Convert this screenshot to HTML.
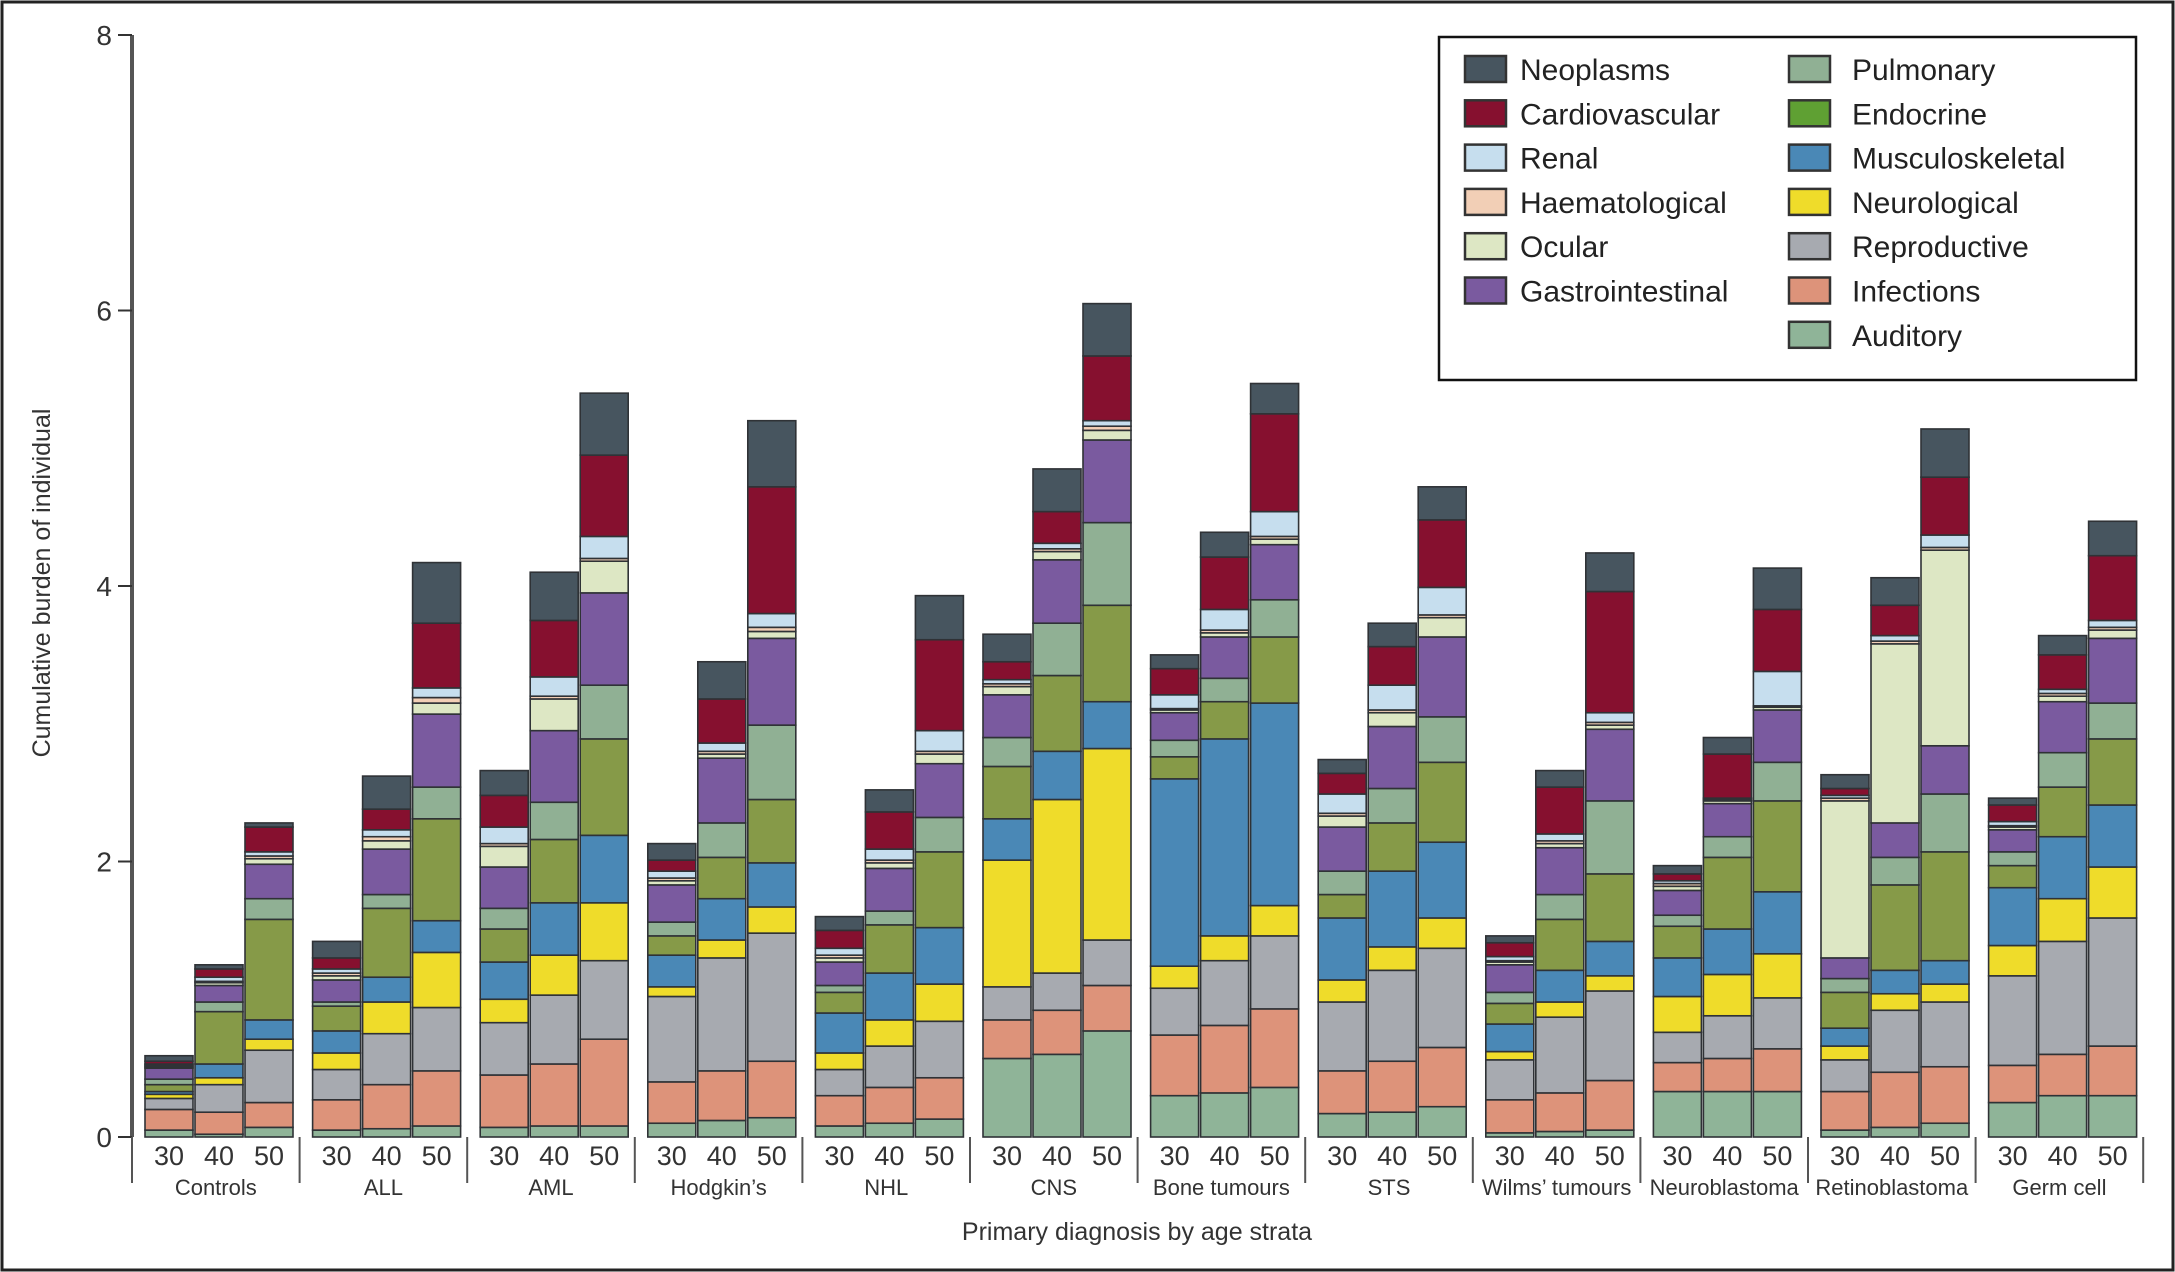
<!DOCTYPE html>
<html><head><meta charset="utf-8"><style>
html,body{margin:0;padding:0;background:#fff}
svg{display:block;font-family:"Liberation Sans",sans-serif}
</style></head><body>
<svg id="chart" width="2175" height="1272" viewBox="0 0 2175 1272" xmlns="http://www.w3.org/2000/svg">
<rect x="2" y="2" width="2171" height="1268" fill="#fff" stroke="#222" stroke-width="3"/>
<g id="bars"></g>
<g id="axes"></g>
<g id="legend"></g>
</svg>
<script>
const groups = ["Controls","ALL","AML","Hodgkin\u2019s","NHL","CNS","Bone tumours","STS","Wilms\u2019 tumours","Neuroblastoma","Retinoblastoma","Germ cell"];
const ages = ["30","40","50"];
const yTicks = [0,2,4,6,8];
const auditory = [.05,.02,.07, .05,.06,.08, .07,.08,.08, .1,.12,.14, .08,.1,.13, .57,.6,.77, .3,.32,.36, .17,.18,.22, .03,.04,.05, .33,.33,.33, .05,.07,.1, .25,.3,.3];
const infections = [.15,.16,.18, .22,.32,.4, .38,.45,.63, .3,.36,.41, .22,.26,.3, .28,.32,.33, .44,.49,.57, .31,.37,.43, .24,.28,.36, .21,.24,.31, .28,.4,.41, .27,.3,.36];
const reproductive = [.08,.2,.38, .22,.37,.46, .38,.5,.57, .62,.82,.93, .19,.3,.41, .24,.27,.33, .34,.47,.53, .5,.66,.72, .29,.55,.65, .22,.31,.37, .23,.45,.47, .65,.82,.93];
const neurological = [.03,.05,.08, .12,.23,.4, .17,.29,.42, .07,.13,.19, .12,.19,.27, .92,1.26,1.39, .16,.18,.22, .16,.17,.22, .06,.11,.11, .26,.3,.32, .1,.12,.13, .22,.31,.37];
const musculoskeletal = [.02,.1,.14, .16,.18,.23, .27,.38,.49, .23,.3,.32, .29,.34,.41, .3,.35,.34, 1.36,1.43,1.47, .45,.55,.55, .2,.23,.25, .28,.33,.45, .13,.17,.17, .42,.45,.45];
const endocrine = [.05,.38,.73, .18,.5,.74, .24,.46,.7, .14,.3,.46, .15,.35,.55, .38,.55,.7, .16,.27,.48, .17,.35,.58, .15,.37,.49, .23,.52,.66, .26,.62,.79, .16,.36,.48];
const pulmonary = [.04,.07,.15, .03,.1,.23, .15,.27,.39, .1,.25,.54, .05,.1,.25, .21,.38,.6, .12,.17,.27, .17,.25,.33, .08,.18,.53, .08,.15,.28, .1,.2,.42, .1,.25,.26];
const gastrointestinal = [.08,.12,.25, .16,.33,.53, .3,.52,.67, .27,.47,.63, .17,.31,.39, .31,.46,.6, .2,.3,.4, .32,.45,.58, .2,.34,.52, .18,.24,.38, .15,.25,.35, .16,.37,.47];
const ocular = [.01,.02,.04, .03,.06,.08, .15,.23,.23, .03,.03,.05, .03,.04,.07, .06,.06,.07, .02,.03,.04, .08,.1,.14, .02,.03,.03, .03,.02,.02, 1.14,1.3,1.42, .02,.04,.06];
const haematological = [.01,.01,.02, .02,.03,.04, .02,.02,.02, .02,.02,.03, .02,.02,.02, .02,.02,.03, .01,.02,.02, .02,.02,.02, .01,.02,.02, .02,.01,.01, .02,.02,.02, .01,.02,.02];
const renal = [.01,.03,.03, .03,.05,.07, .12,.14,.16, .05,.06,.1, .05,.08,.15, .03,.04,.04, .1,.15,.18, .14,.18,.2, .03,.05,.07, .02,.01,.25, .02,.04,.09, .03,.03,.05];
const cardiovascular = [.02,.06,.18, .08,.15,.47, .23,.41,.59, .08,.32,.92, .13,.27,.66, .13,.23,.47, .19,.38,.71, .15,.28,.49, .1,.34,.88, .05,.32,.45, .05,.22,.42, .12,.25,.47];
const neoplasms = [.04,.03,.03, .12,.24,.44, .18,.35,.45, .12,.27,.48, .1,.16,.32, .2,.31,.38, .1,.18,.22, .1,.17,.24, .05,.12,.28, .06,.12,.30, .1,.2,.35, .05,.14,.25];

const series = [
 ["Auditory",auditory,"#8fb498"],["Infections",infections,"#dd937a"],["Reproductive",reproductive,"#a7aab0"],
 ["Neurological",neurological,"#efdc2a"],["Musculoskeletal",musculoskeletal,"#4a88b6"],["Endocrine",endocrine,"#869a48"],
 ["Pulmonary",pulmonary,"#90b094"],["Gastrointestinal",gastrointestinal,"#7a5a9f"],["Ocular",ocular,"#dde7c4"],
 ["Haematological",haematological,"#f2cfb6"],["Renal",renal,"#c6deee"],["Cardiovascular",cardiovascular,"#86102f"],["Neoplasms",neoplasms,"#47555f"]];

const NS="http://www.w3.org/2000/svg";
const y0=1137, y8=35;
function yScale(v){return y0-(y0-y8)*v/8;}
const axisX=132, groupStep=167.6, firstBar=145, barStep=50, barW=48;
function xScale(g,a){return firstBar+g*groupStep+a*barStep;}
function mk(tag,attrs,parent){const e=document.createElementNS(NS,tag);for(const k in attrs)e.setAttribute(k,attrs[k]);parent.appendChild(e);return e;}

const bars=document.getElementById('bars');
groups.forEach((g,gi)=>{ages.forEach((a,ai)=>{
  const idx=gi*3+ai;let cum=0;const x=xScale(gi,ai);
  series.forEach(s=>{
    const v=s[1][idx];const yt=yScale(cum+v),yb=yScale(cum);
    const r=mk('rect',{x:x,y:yt,width:barW,height:Math.max(0,yb-yt),fill:s[2],stroke:'#2f3236','stroke-width':1.6},bars);
    
    
    cum+=v;
  });
});});

const ax=document.getElementById('axes');
let l=mk('line',{x1:axisX,y1:y8,x2:axisX,y2:y0,stroke:'#555','stroke-width':4},ax);


yTicks.forEach(t=>{
  const y=yScale(t);
  const tk=mk('line',{x1:axisX-14,y1:y,x2:axisX,y2:y,stroke:'#333','stroke-width':2},ax);
  
  
  const tx=mk('text',{x:axisX-20,y:y+10,'text-anchor':'end','font-size':28,fill:'#333'},ax);
  tx.textContent=t;
  
  
});
for(let k=0;k<=groups.length;k++){
  const x=axisX+k*groupStep;
  const sl=mk('line',{x1:x,y1:y0,x2:x,y2:1183,stroke:'#555','stroke-width':2},ax);
  
  
}
groups.forEach((g,gi)=>{
  ages.forEach((a,ai)=>{
    const t=mk('text',{x:xScale(gi,ai)+barW/2,y:1165,'text-anchor':'middle','font-size':27,fill:'#333'},ax);
    t.textContent=a;
    
    
  });
  const t=mk('text',{x:axisX+gi*groupStep+groupStep/2,y:1195,'text-anchor':'middle','font-size':22,fill:'#333'},ax);
  t.textContent=g;
  
  
});
let xt=mk('text',{x:1137,y:1240,'text-anchor':'middle','font-size':25,fill:'#333'},ax);
xt.textContent='Primary diagnosis by age strata';


let yt=mk('text',{x:0,y:0,'text-anchor':'middle','font-size':25,fill:'#333',transform:'translate(50,583) rotate(-90)'},ax);
yt.textContent='Cumulative burden of individual';



const lg=document.getElementById('legend');
const box=mk('rect',{x:1439,y:37,width:697,height:343,fill:'#fff',stroke:'#111','stroke-width':2.5},lg);


const leftCol=["Neoplasms","Cardiovascular","Renal","Haematological","Ocular","Gastrointestinal"];
const rightCol=["Pulmonary","Endocrine","Musculoskeletal","Neurological","Reproductive","Infections","Auditory"];
const colorOf={};series.forEach(s=>colorOf[s[0]]=s[2]);
colorOf["Endocrine"]="#5fa033";
function entry(name,i,sx,tx){
  const g=mk('g',{},lg);
  
  
  const y=56+i*44.3;
  mk('rect',{x:sx,y:y,width:41,height:26,fill:colorOf[name],stroke:'#333','stroke-width':2.5},g);
  const t=mk('text',{x:tx,y:y+24,'font-size':30,fill:'#222'},g);
  t.textContent=name;
}
leftCol.forEach((n,i)=>entry(n,i,1465,1520));
rightCol.forEach((n,i)=>entry(n,i,1789,1852));
</script>
</body></html>
